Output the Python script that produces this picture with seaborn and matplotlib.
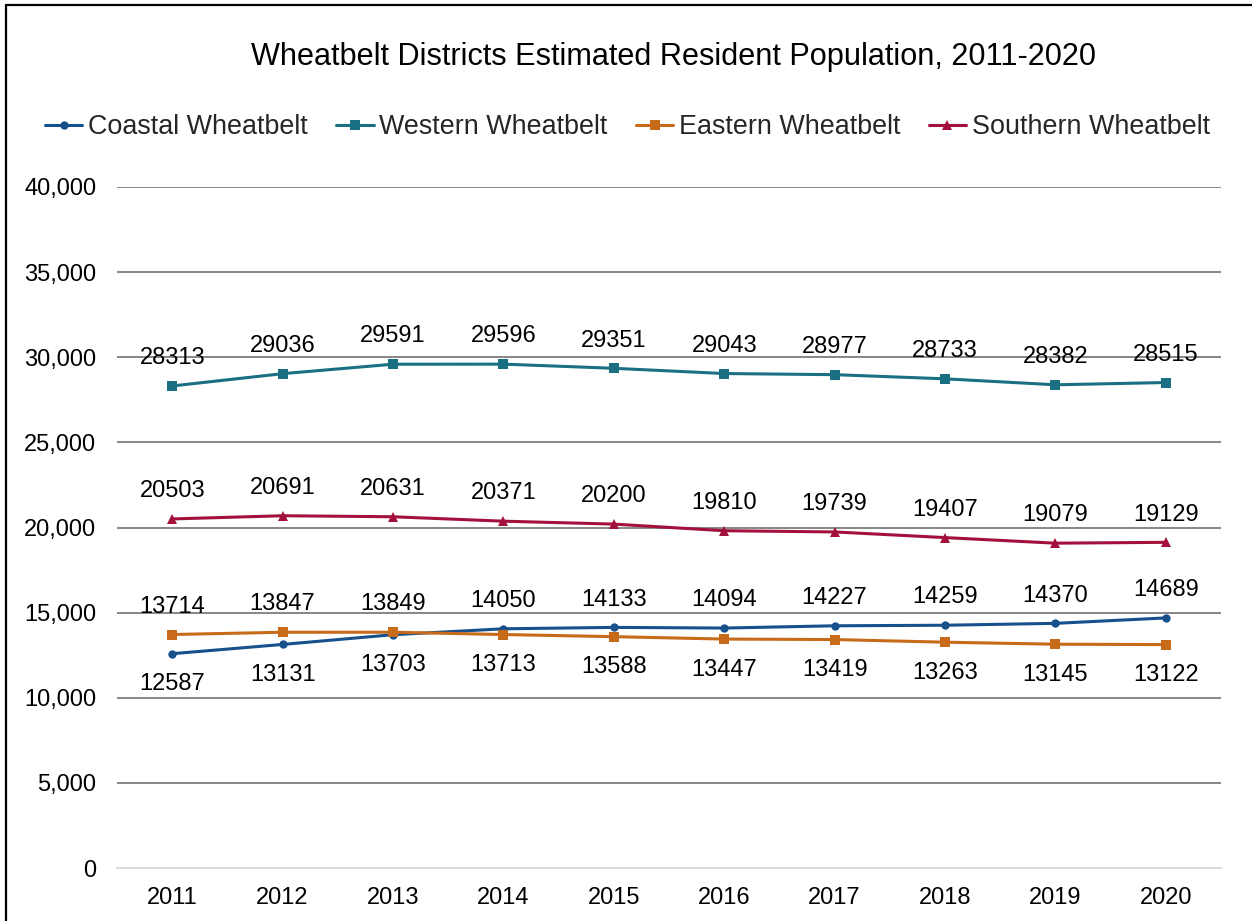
import matplotlib
matplotlib.use("Agg")
import matplotlib.pyplot as plt
import seaborn as sns
import pandas as pd
from matplotlib.lines import Line2D
from matplotlib.ticker import FuncFormatter

years = [2011, 2012, 2013, 2014, 2015, 2016, 2017, 2018, 2019, 2020]
coastal = [12587, 13131, 13703, 14050, 14133, 14094, 14227, 14259, 14370, 14689]
western = [28313, 29036, 29591, 29596, 29351, 29043, 28977, 28733, 28382, 28515]
eastern = [13714, 13847, 13849, 13713, 13588, 13447, 13419, 13263, 13145, 13122]
southern = [20503, 20691, 20631, 20371, 20200, 19810, 19739, 19407, 19079, 19129]
series_names = ["Coastal Wheatbelt", "Western Wheatbelt", "Eastern Wheatbelt", "Southern Wheatbelt"]
title = "Wheatbelt Districts Estimated Resident Population, 2011-2020"

colors = ["#17508a", "#1a6f83", "#c76b1a", "#a3103c"]
markers = ["o", "s", "s", "^"]
msizes = [6, 7, 7, 7.5]

sns.set_style("white")
plt.rcParams["font.family"] = ["Liberation Sans", "DejaVu Sans"]

fig = plt.figure(figsize=(12.52, 9.21), dpi=100)
ax = fig.add_axes([117 / 1252, 53 / 921, (1221 - 117) / 1252, (868 - 187) / 921])

df = pd.DataFrame({
    "year": years * 4,
    "value": coastal + western + eastern + southern,
    "series": sum([[n] * len(years) for n in series_names], []),
})

for name, col, mk, ms in zip(series_names, colors, markers, msizes):
    sub = df[df["series"] == name]
    sns.lineplot(data=sub, x="year", y="value", ax=ax, color=col, marker=mk,
                 markersize=ms, markeredgewidth=0, linewidth=2.2, label=name,
                 legend=False, zorder=3)

ax.set_xlim(2010.5, 2020.5)
ax.set_ylim(0, 40000)
ax.set_yticks(range(0, 40001, 5000))
ax.yaxis.set_major_formatter(FuncFormatter(lambda v, p: f"{int(v):,}"))
ax.set_xticks(years)
ax.set_xticklabels([str(y) for y in years])
ax.set_xlabel("")
ax.set_ylabel("")

for s in ["top", "right", "left"]:
    ax.spines[s].set_visible(False)
ax.spines["bottom"].set_color("#d9d9d9")
ax.spines["bottom"].set_linewidth(1.4)
ax.grid(axis="y", color="#868686", linewidth=1.4)
ax.set_axisbelow(True)
gl = ax.get_ygridlines()
gl[0].set_visible(False)

ax.tick_params(axis="x", direction="in", length=5, color="#d9d9d9", width=1.2,
               labelsize=17, pad=14, colors="#d9d9d9", labelcolor="black")
ax.tick_params(axis="y", length=0, labelsize=17, pad=15, labelcolor="black")
ax.set_xticks([2010.5, 2020.5], minor=True)
ax.tick_params(axis="x", which="minor", direction="in", length=5, color="#d9d9d9", width=1.2)

# data labels
for i, y in enumerate(years):
    for vals in (western, southern):
        ax.annotate(str(vals[i]), (y, vals[i]), xytext=(0, 20), textcoords="offset points",
                    ha="center", va="center", fontsize=17, color="black")
    c, e = coastal[i], eastern[i]
    for v, other in ((c, e), (e, c)):
        off = 20 if v >= other else -22
        ax.annotate(str(v), (y, v), xytext=(0, off), textcoords="offset points",
                    ha="center", va="center", fontsize=17, color="black")

fig.text(0.538, 1 - 57 / 921, title, ha="center", va="center", fontsize=22.1, color="black")

handles = [Line2D([0], [0], color=c, marker=m, markersize=ms, markeredgewidth=0, linewidth=2.2)
           for c, m, ms in zip(colors, markers, msizes)]
fig.legend(handles, series_names, loc="center", bbox_to_anchor=(0.501, 1 - 127 / 921),
           ncol=4, frameon=False, fontsize=19.4, handlelength=1.4, handletextpad=0.2,
           columnspacing=1.05, borderaxespad=0)

fig.add_artist(Line2D([5.5 / 1252, 5.5 / 1252], [0, 1 - 5 / 921], color="black", linewidth=1.6,
                      transform=fig.transFigure))
fig.add_artist(Line2D([5.5 / 1252, 1], [1 - 5 / 921, 1 - 5 / 921], color="black", linewidth=1.6,
                      transform=fig.transFigure))

fig.savefig("out.png", dpi=100, facecolor="white")
